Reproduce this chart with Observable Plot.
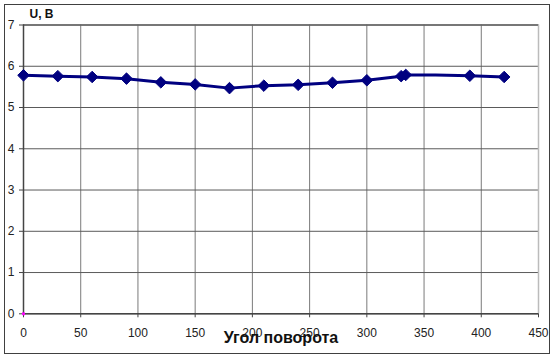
<!DOCTYPE html>
<html>
<head>
<meta charset="utf-8">
<script src="https://cdn.jsdelivr.net/npm/d3@7"></script>
<script src="https://cdn.jsdelivr.net/npm/@observablehq/plot@0.6"></script>
<style>
  html, body { margin: 0; padding: 0; background: #fff; }
  #wrap { position: relative; width: 554px; height: 360px; }
  #border { position: absolute; left: 4px; top: 4px; width: 544px; height: 348px; border: 1px solid #404040; pointer-events: none; }
</style>
</head>
<body>
<div id="wrap"><div id="border"></div></div>
<script>
// Angle of rotation (degrees)
const angles   = [0, 30, 60, 90, 120, 150, 180, 210, 240, 270, 300, 330, 334, 360, 390, 420];
// Voltage U, V
const voltages = [5.78, 5.76, 5.74, 5.70, 5.61, 5.56, 5.47, 5.53, 5.55, 5.60, 5.66, 5.76, 5.79, 5.79, 5.77, 5.74];
// whether a marker is drawn at the point
const markers  = [1, 1, 1, 1, 1, 1, 1, 1, 1, 1, 1, 1, 1, 0, 1, 1];
const xTicks = [0, 50, 100, 150, 200, 250, 300, 350, 400, 450];
const yTicks = [0, 1, 2, 3, 4, 5, 6, 7];
const extraX = [0], extraY = [0];

const data = angles.map((a, i) => ({a, u: voltages[i], m: markers[i]}));

const chart = Plot.plot({
  width: 554,
  height: 360,
  marginLeft: 23,
  marginRight: 16,
  marginTop: 24.5,
  marginBottom: 46.7,
  style: {background: "#fff", fontFamily: "Liberation Sans, Arial, sans-serif", fontSize: "12px", color: "#222"},
  x: {domain: [0, 450], ticks: xTicks, label: null},
  y: {domain: [0, 7], ticks: yTicks, label: null},
  marks: [
    Plot.gridX(xTicks, {stroke: "#7a7a7a", strokeOpacity: 1, strokeWidth: 1}),
    Plot.gridY(yTicks, {stroke: "#5a5a5a", strokeOpacity: 1, strokeWidth: 1}),
    Plot.ruleX([450], {stroke: "#bbbbbb", strokeWidth: 1.5}),
    Plot.ruleY([7], {stroke: "#666", strokeWidth: 1.5}),
    Plot.ruleY([0], {stroke: "#444", strokeWidth: 1.5}),
    Plot.ruleX([0], {stroke: "#444", strokeWidth: 1.5}),
    Plot.axisX(xTicks, {tickSize: 4, tickPadding: 11, stroke: "#444", fill: "#222", fontSize: 12}),
    Plot.axisY(yTicks, {tickSize: 4, tickPadding: 5, stroke: "#444", fill: "#222", fontSize: 12}),
    Plot.line(data, {x: "a", y: "u", stroke: "#000080", strokeWidth: 3}),
    Plot.dot(data.filter(d => d.m), {x: "a", y: "u", symbol: "diamond2", r: 5.2, fill: "#000080", stroke: "#000080", strokeWidth: 1}),
    Plot.dot(extraX.map((x, i) => ({x, y: extraY[i]})), {x: "x", y: "y", symbol: "square", r: 1.6, fill: "#ff00ff"}),
    Plot.text(["U, B"], {frameAnchor: "top-left", dx: 6, dy: -16, textAnchor: "start", fontWeight: "bold", fontSize: 12, fill: "#111"}),
    Plot.text(["Угол поворота"], {frameAnchor: "bottom", dy: 29, fontWeight: "bold", fontSize: 16, fill: "#111"})
  ]
});
document.getElementById("wrap").prepend(chart);
</script>
</body>
</html>
